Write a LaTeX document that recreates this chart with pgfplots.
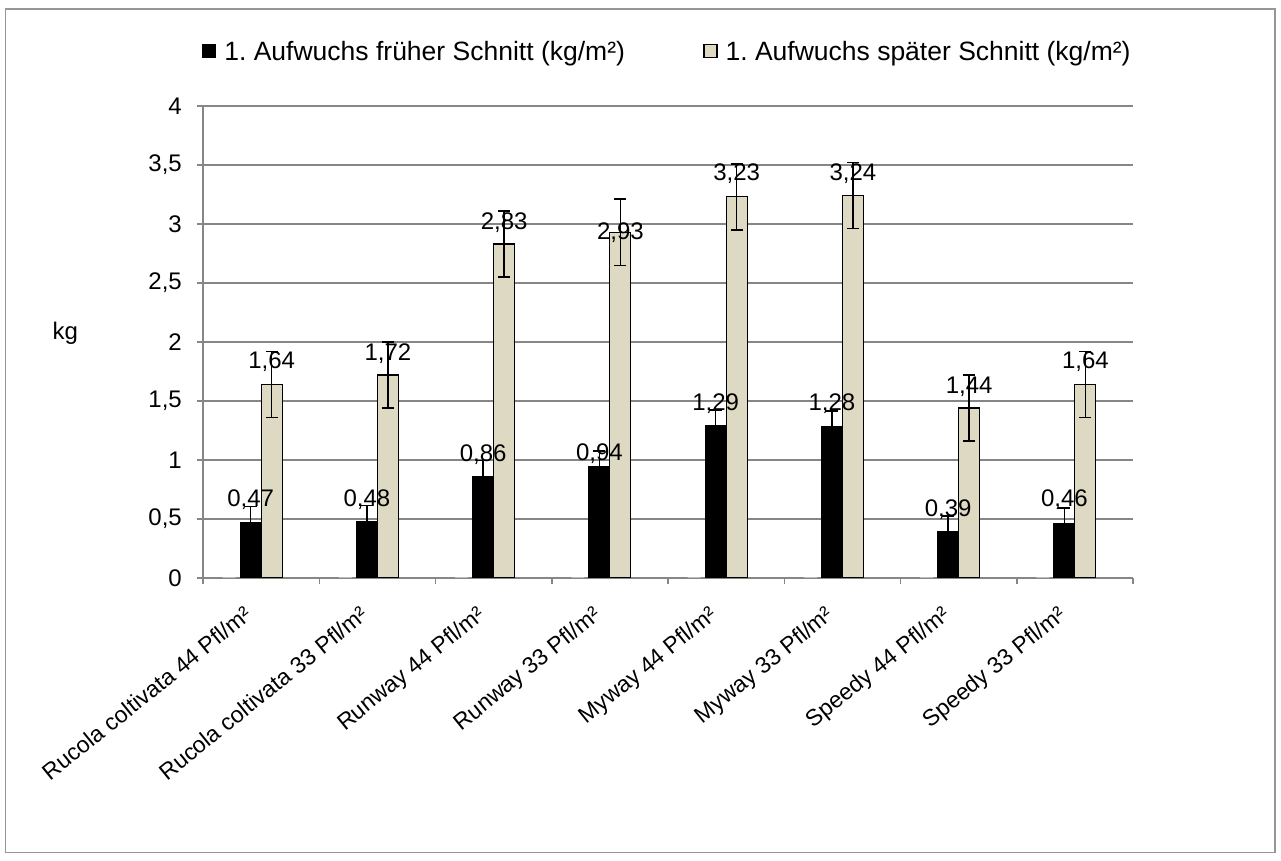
\documentclass[border=0pt]{standalone}
\usepackage{pgfplots}
\usepackage{pgfplotstable}
\pgfplotsset{compat=1.18}
\usepackage{fontspec}
\setmainfont{Liberation Sans}
\definecolor{beige}{RGB}{221,217,195}
\definecolor{gridgray}{RGB}{134,134,134}
\definecolor{framegray}{RGB}{150,150,150}
\pgfplotstableread{
x y err dy
0 0.47 0.135 16
1 0.48 0.135 15
2 0.86 0.135 15
3 0.94 0.135 7
4 1.29 0.135 15
5 1.28 0.135 16
6 0.39 0.135 15
7 0.46 0.135 17
}\early
\pgfplotstableread{
x y err dy
0 1.64 0.28 16
1 1.72 0.28 15
2 2.83 0.28 15
3 2.93 0.28 -7
4 3.23 0.28 16
5 3.24 0.28 15
6 1.44 0.28 15
7 1.64 0.28 16
}\late
\begin{document}
\frenchspacing
\begin{tikzpicture}
\useasboundingbox (0,0) rectangle (1281bp,861bp);
\fill[white] (0,0) rectangle (1281bp,861bp);
\draw[framegray, line width=1.2bp] (5.5bp,8.5bp) rectangle (1275bp,852bp);
\begin{axis}[
  at={(203bp,283bp)}, anchor=south west,
  width=930bp, height=472bp, scale only axis,
  xmin=-0.5, xmax=7.5, ymin=0, ymax=4,
  ybar,
  axis lines*=left,
  axis line style={gridgray, line width=1.5bp},
  ymajorgrids, grid style={gridgray, line width=1.5bp},
  ytick={0,0.5,...,4},
  tick align=outside,
  major tick length=6bp,
  minor tick length=6bp,
  y tick style={gridgray, line width=1.5bp},
  major x tick style={draw=none},
  minor xtick={-0.5,0.5,...,7.5},
  minor x tick style={gridgray, line width=1.5bp},
  xtick={0,...,7},
  xticklabels={Rucola coltivata 44 Pfl/m², Rucola coltivata 33 Pfl/m², Runway 44 Pfl/m², Runway 33 Pfl/m², Myway 44 Pfl/m², Myway 33 Pfl/m², Speedy 44 Pfl/m², Speedy 33 Pfl/m²},
  tick label style={font=\fontsize{24bp}{28bp}\selectfont},
  /pgf/number format/assume math mode=true,
  /pgf/number format/use comma,
  xticklabel style={xshift=-18bp, yshift=-20bp, rotate=39, anchor=north east, inner sep=0pt, font=\fontsize{23bp}{27bp}\selectfont},
  yticklabel style={anchor=east, inner sep=0pt, xshift=-15bp},
  ylabel={kg},
  ylabel style={rotate=-90, at={(axis description cs:-0.148,0.519)}, anchor=center, font=\fontsize{24bp}{28bp}\selectfont},
  legend style={at={(axis description cs:-0.0011,1.116)}, anchor=west, draw=none, fill=none, inner sep=0pt,
    font=\fontsize{26.5bp}{31bp}\selectfont, nodes={inner sep=0pt},
    /tikz/every odd column/.append style={column sep=8bp}},
  legend columns=2,
  legend cell align=left,
  legend image code/.code={\draw[#1, line width=1.2bp] (0bp,-6.5bp) rectangle (13bp,6.5bp);},
]
\addplot[fill=gray!50, draw=none, bar width=13bp, bar shift=-32bp, forget plot]
  coordinates {(0,0.008) (1,0.008) (2,0.008) (3,0.008) (4,0.008) (5,0.008) (6,0.008) (7,0.008)};
\addplot[fill=black, draw=black, line width=1.2bp, bar width=21bp, bar shift=-10.5bp,
  point meta=y,
  visualization depends on={\thisrow{dy} \as \labelshift},
  nodes near coords={\pgfmathprintnumber[fixed, fixed zerofill, precision=2, use comma]{\pgfplotspointmeta}},
  every node near coord/.append style={anchor=base, yshift=\labelshift*1bp, inner sep=0pt, black, font=\fontsize{24bp}{28bp}\selectfont},
  error bars/.cd, y dir=both, y explicit,
  error bar style={black, line width=1.5bp},
  error mark options={rotate=90, mark size=6bp, line width=1.5bp, black}]
  table[x=x, y=y, y error=err] {\early};
\addlegendentry{\makebox[479bp][l]{1. Aufwuchs früher Schnitt (kg/m²)}}
\addplot[fill=beige, draw=black, line width=1.2bp, bar width=21bp, bar shift=10.5bp,
  point meta=y,
  visualization depends on={\thisrow{dy} \as \labelshift},
  nodes near coords={\pgfmathprintnumber[fixed, fixed zerofill, precision=2, use comma]{\pgfplotspointmeta}},
  every node near coord/.append style={anchor=base, yshift=\labelshift*1bp, inner sep=0pt, black, font=\fontsize{24bp}{28bp}\selectfont},
  error bars/.cd, y dir=both, y explicit,
  error bar style={black, line width=1.5bp},
  error mark options={rotate=90, mark size=6bp, line width=1.5bp, black}]
  table[x=x, y=y, y error=err] {\late};
\addlegendentry{1. Aufwuchs später Schnitt (kg/m²)}
\end{axis}
\end{tikzpicture}
\end{document}
